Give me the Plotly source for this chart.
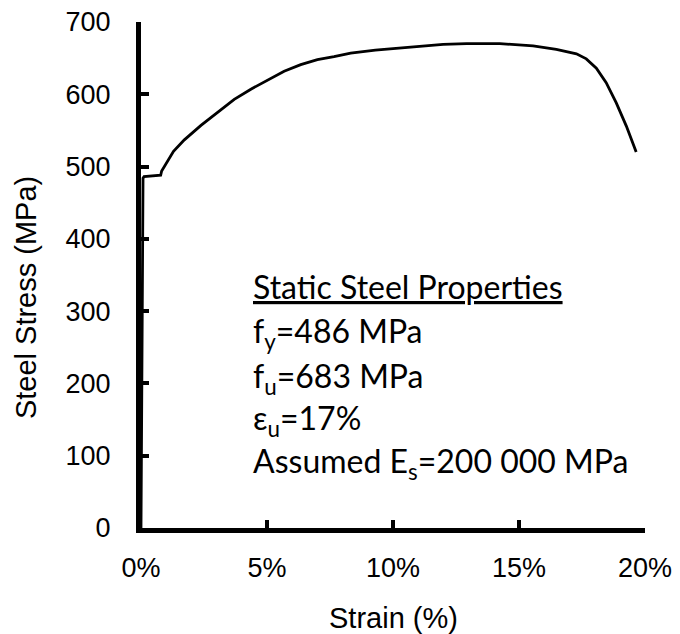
import plotly.graph_objects as go

# Measured stress-strain response of the reinforcing steel
strain_pct = [0.0, 0.08, 0.12, 0.45, 0.78, 0.82, 1.29, 1.72, 2.38, 3.04, 3.70, 4.36,
              5.02, 5.68, 6.34, 7.00, 7.66, 8.32, 9.30, 10.28, 11.07, 11.99, 12.92,
              14.24, 15.56, 16.48, 17.28, 17.67, 18.07, 18.46, 18.86, 19.26, 19.65]
stress_mpa = [0, 484, 486, 487, 488, 494, 521, 537, 557, 575, 593, 607,
              620, 632, 641, 648, 652, 657, 661, 664, 666, 669, 670,
              670, 667, 662, 656, 649, 636, 616, 588, 556, 520]

x_ticks = [0, 5, 10, 15, 20]
y_ticks = [0, 100, 200, 300, 400, 500, 600, 700]

props_lines = [
    "<span style='text-decoration:underline'>Static Steel Properties</span>",
    "f<sub>y</sub>=486 MPa",
    "f<sub>u</sub>=683 MPa",
    "ε<sub>u</sub>=17%",
    "Assumed E<sub>s</sub>=200 000 MPa",
]

fig = go.Figure()
fig.add_trace(go.Scatter(
    x=strain_pct, y=stress_mpa, mode="lines",
    line=dict(color="black", width=2.8), showlegend=False,
))

axis_font = dict(family="Liberation Sans, Arial, sans-serif", size=27, color="black")
title_font = dict(family="Liberation Sans, Arial, sans-serif", size=29, color="black")

fig.update_xaxes(
    range=[0, 20], tickvals=x_ticks, ticktext=[f"{v}%" for v in x_ticks],
    showgrid=False, zeroline=False, showline=True, linecolor="black", linewidth=5,
    ticks="inside", ticklen=8, tickwidth=4, tickcolor="black",
    tickfont=axis_font, ticklabelstandoff=12, automargin=False,
)
fig.update_yaxes(
    range=[0, 700], tickvals=y_ticks,
    showgrid=False, zeroline=False, showline=True, linecolor="black", linewidth=5,
    ticks="inside", ticklen=8, tickwidth=4, tickcolor="black",
    tickfont=axis_font, ticklabelstandoff=20, automargin=False,
)

# Axis titles
fig.add_annotation(
    text="Strain (%)", font=title_font,
    xref="paper", yref="paper", x=0.5, y=-0.178,
    xanchor="center", yanchor="middle", showarrow=False,
)
fig.add_annotation(
    text="Steel Stress (MPa)", textangle=-90, font=title_font,
    xref="paper", yref="paper", x=-0.228, y=0.4545,
    xanchor="center", yanchor="middle", showarrow=False,
)

# Material property summary
line_tops = [0.5198, 0.4328, 0.3439, 0.2609, 0.1759]
for txt, ytop in zip(props_lines, line_tops):
    fig.add_annotation(
        text=txt, xref="paper", yref="paper", x=0.218, y=ytop,
        xanchor="left", yanchor="top", align="left", showarrow=False,
        font=dict(family="Lato, sans-serif", size=32, color="black"),
    )

fig.update_layout(
    width=680, height=634,
    margin=dict(l=141, r=35, t=22, b=106),
    paper_bgcolor="white", plot_bgcolor="white",
)

fig.write_html("out.html")
